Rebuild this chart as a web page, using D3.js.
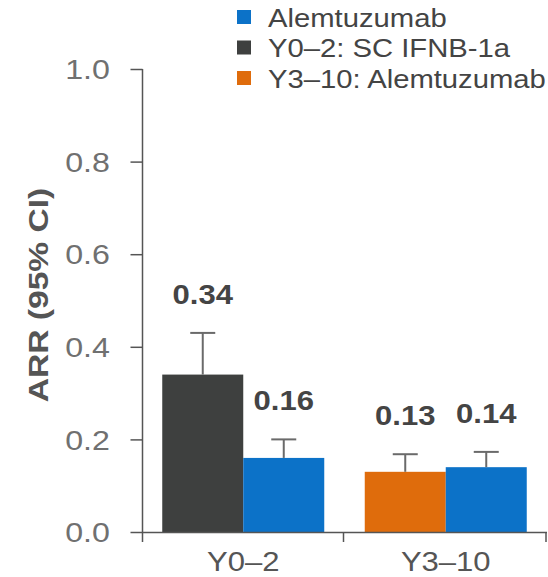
<!DOCTYPE html>
<html>
<head>
<meta charset="utf-8">
<script src="https://cdn.jsdelivr.net/npm/d3@7/dist/d3.min.js"></script>
<style>
  html, body { margin: 0; padding: 0; background: #fff; }
  svg { display: block; font-family: "Liberation Sans", Arial, sans-serif; }
</style>
</head>
<body>
<svg id="chart" width="548" height="577"></svg>
<script>
// Annualised relapse rate by study period
const periods = ["Y0–2", "Y3–10"];
const comparatorARR = [0.34, 0.13];      // SC IFNB-1a (Y0–2), then alemtuzumab (Y3–10)
const comparatorUpper = [0.43, 0.168];   // upper 95% CI
const alemtuzumabARR = [0.16, 0.14];
const alemtuzumabUpper = [0.20, 0.173];
const yTicks = [0, 0.2, 0.4, 0.6, 0.8, 1.0];
const legendLabels = ["Alemtuzumab", "Y0–2: SC IFNB-1a", "Y3–10: Alemtuzumab"];

const BLUE = "#0c72c8", DARK = "#3e403f", ORANGE = "#df6c0c";
const comparatorColors = [DARK, ORANGE];
const legendColors = [BLUE, DARK, ORANGE];

const svg = d3.select("#chart");
const SX = 1.15; // horizontal widening of the lettering

const y = d3.scaleLinear().domain([0, 1]).range([532, 69]);
const x = d3.scaleBand().domain(periods).range([142, 547]).paddingInner(0).paddingOuter(0);
const inner = d3.scaleBand().domain([0, 1]).range([0, x.bandwidth()]).paddingInner(0).paddingOuter(0.25);

function wideText(g, tx, ty, str, opts) {
  const t = g.append("g").attr("transform", `translate(${tx},${ty})${opts.rotate ? " rotate(" + opts.rotate + ")" : ""} scale(${opts.sx || SX},1)`)
    .append("text").text(str)
    .attr("font-size", opts.size)
    .attr("font-weight", opts.weight || "normal")
    .attr("fill", opts.fill)
    .attr("text-anchor", opts.anchor || "middle")
    .attr("dominant-baseline", opts.baseline || "auto");
  return t;
}

// rows for drawing
const rows = [];
periods.forEach((p, i) => {
  rows.push({ period: p, slot: 0, value: comparatorARR[i], upper: comparatorUpper[i], color: comparatorColors[i] });
  rows.push({ period: p, slot: 1, value: alemtuzumabARR[i], upper: alemtuzumabUpper[i], color: BLUE });
});

// bars
svg.append("g").selectAll("rect").data(rows).join("rect")
  .attr("x", d => x(d.period) + inner(d.slot))
  .attr("width", inner.bandwidth())
  .attr("y", d => y(d.value))
  .attr("height", d => y(0) - y(d.value))
  .attr("fill", d => d.color);

// upper CI whiskers
const err = svg.append("g").attr("stroke", "#6a6a6a").attr("stroke-width", 2);
rows.forEach(d => {
  const cx = x(d.period) + inner(d.slot) + inner.bandwidth() / 2;
  err.append("line").attr("x1", cx).attr("x2", cx).attr("y1", y(d.value)).attr("y2", y(d.upper));
  err.append("line").attr("x1", cx - 12.5).attr("x2", cx + 12.5).attr("y1", y(d.upper)).attr("y2", y(d.upper));
});

// value labels
const lab = svg.append("g");
rows.forEach(d => {
  const cx = x(d.period) + inner(d.slot) + inner.bandwidth() / 2;
  wideText(lab, cx, y(d.upper) - 29, d.value.toFixed(2), { size: 27, weight: "bold", fill: "#444" });
});

// y axis
const yAxis = d3.axisLeft(y).tickValues(yTicks).tickFormat(d3.format(".1f")).tickSize(12).tickSizeOuter(0);
const ya = svg.append("g").attr("transform", "translate(142.5,0)").call(yAxis);
ya.select(".domain").remove();
ya.selectAll(".tick line").attr("stroke", "#555").attr("stroke-width", 1.5);
ya.selectAll(".tick text").remove();
ya.selectAll(".tick").each(function (d) {
  wideText(d3.select(this), -55, 0, d3.format(".1f")(d), { size: 28, fill: "#707070", baseline: "central" });
});
svg.append("line").attr("x1", 142.5).attr("x2", 142.5).attr("y1", y(1)).attr("y2", y(0) + 10)
  .attr("stroke", "#555").attr("stroke-width", 1.5);

// x axis
svg.append("line").attr("x1", 142).attr("x2", 547).attr("y1", y(0) + 0.5).attr("y2", y(0) + 0.5)
  .attr("stroke", "#555").attr("stroke-width", 1.5);
const bounds = [x(periods[0]) + x.bandwidth(), x(periods[1]) + x.bandwidth()];
bounds.forEach(bx => {
  svg.append("line").attr("x1", bx - 1).attr("x2", bx - 1).attr("y1", y(0)).attr("y2", y(0) + 10)
    .attr("stroke", "#555").attr("stroke-width", 1.5);
});
const xl = svg.append("g");
periods.forEach(p => {
  wideText(xl, x(p) + x.bandwidth() / 2, 571, p, { size: 27, fill: "#555" });
});

// y axis title
wideText(svg, 48, 295, "ARR (95% CI)", { size: 28, weight: "bold", fill: "#555", rotate: -90, sx: 1.2 });

// legend
const lg = svg.append("g");
legendLabels.forEach((t, i) => {
  const cy = 17 + i * 30.5;
  lg.append("rect").attr("x", 237).attr("y", cy - 7).attr("width", 14).attr("height", 14).attr("fill", legendColors[i]);
  wideText(lg, 268, cy + 1, t, { size: 25, fill: "#444", anchor: "start", baseline: "central", sx: 1.17 });
});
</script>
</body>
</html>
